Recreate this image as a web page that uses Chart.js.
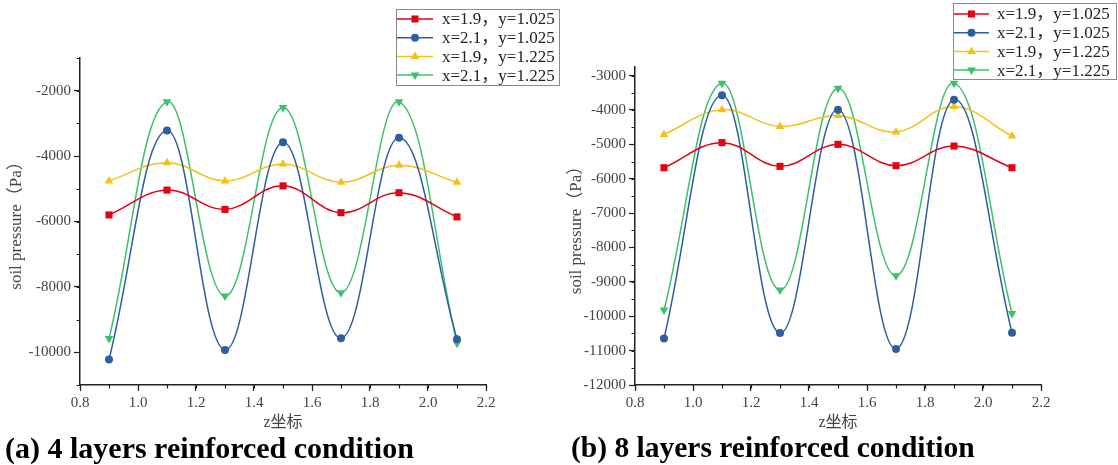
<!DOCTYPE html>
<html>
<head>
<meta charset="utf-8">
<script src="https://cdn.jsdelivr.net/npm/chart.js@4.4.0/dist/chart.umd.min.js"></script>
<style>
  body { margin: 0; background: #fff; width: 1118px; height: 465px; overflow: hidden; position: relative; }
  .wrap { position: absolute; top: 0; height: 440px; }
  .cap { position: absolute; top: 433px; font-family: 'Liberation Serif', serif; font-weight: bold; font-size: 30px; line-height: 1; color: #000; white-space: nowrap; }
</style>
</head>
<body>
<div class="wrap" style="left:0;width:560px"><canvas id="chartA" width="560" height="440"></canvas></div>
<div class="wrap" style="left:560px;width:558px"><canvas id="chartB" width="558" height="440"></canvas></div>
<div class="cap" style="left:5px">(a) 4 layers reinforced condition</div>
<div class="cap" style="left:571px;font-size:29.5px">(b) 8 layers reinforced condition</div>

<script>
// z坐标 (x axis)
const zCoord = [0.9, 1.1, 1.3, 1.5, 1.7, 1.9, 2.1];
const seriesNames = ['x=1.9，y=1.025', 'x=2.1，y=1.025', 'x=1.9，y=1.225', 'x=2.1，y=1.225'];
const seriesColors = ['#e60012', '#2d5e9e', '#f5c116', '#3cc06c'];
const seriesMarkers = ['rect', 'circle', 'triangle', 'triangle'];
const seriesRotation = [0, 0, 0, 180];

// (a) 4 layers
const a_x19_y1025 = [-5800, -5040, -5630, -4910, -5730, -5120, -5860];
const a_x21_y1025 = [-10220, -3220, -9930, -3580, -9570, -3440, -9600];
const a_x19_y1225 = [-4760, -4200, -4760, -4240, -4800, -4280, -4800];
const a_x21_y1225 = [-9580, -2340, -8280, -2510, -8180, -2340, -9720];

// (b) 8 layers
const b_x19_y1025 = [-5680, -4950, -5640, -5000, -5620, -5050, -5680];
const b_x21_y1025 = [-10650, -3570, -10490, -3990, -10950, -3700, -10480];
const b_x19_y1225 = [-4710, -3990, -4480, -4160, -4640, -3900, -4760];
const b_x21_y1225 = [-9820, -3220, -9240, -3370, -8820, -3220, -9920];

// labelled y ticks
const aTicksY = [-10000, -8000, -6000, -4000, -2000];
const bTicksY = [-12000, -11000, -10000, -9000, -8000, -7000, -6000, -5000, -4000, -3000];

const serif = 'Liberation Serif, Noto Sans CJK SC, serif';

function makeDatasets(list) {
    return list.map(function (vals, i) {
        return {
            label: seriesNames[i],
            data: vals.map(function (v, k) { return { x: zCoord[k], y: v }; }),
            borderColor: seriesColors[i],
            backgroundColor: seriesColors[i],
            borderWidth: 1.5,
            tension: 0.4,
            pointStyle: seriesMarkers[i],
            pointRotation: seriesRotation[i],
            pointRadius: i === 1 ? 4 : 5,
            pointBorderWidth: 0
        };
    });
}

// small ticks between the labelled ones
const minorTicks = {
    id: 'minorTicks',
    afterDraw(chart, args, o) {
        const ctx = chart.ctx, xs = chart.scales.x, ys = chart.scales.y;
        ctx.save();
        ctx.strokeStyle = '#222';
        ctx.lineWidth = 1.2;
        ctx.beginPath();
        for (let v = xs.min; v <= xs.max + 1e-9; v += o.xStep) {
            const px = Math.round(xs.getPixelForValue(v)) + 0.5;
            ctx.moveTo(px, xs.top); ctx.lineTo(px, xs.top + 3.5);
        }
        for (let v = o.yFrom; v <= ys.max + 1e-9; v += o.yStep) {
            const py = Math.round(ys.getPixelForValue(v)) + 0.5;
            ctx.moveTo(ys.right, py); ctx.lineTo(ys.right - 3.5, py);
        }
        ctx.stroke();
        ctx.restore();
    }
};

// boxed legend with line + marker, like the original figure
const boxLegend = {
    id: 'boxLegend',
    afterDraw(chart, args, o) {
        const ctx = chart.ctx;
        ctx.save();
        ctx.fillStyle = '#fff';
        ctx.fillRect(o.x, o.y, o.w, o.h);
        ctx.strokeStyle = '#8a8a8a';
        ctx.lineWidth = 1;
        ctx.strokeRect(o.x + 0.5, o.y + 0.5, o.w - 1, o.h - 1);
        chart.data.datasets.forEach(function (ds, i) {
            const cy = o.y + o.first + i * o.row;
            ctx.strokeStyle = ds.borderColor;
            ctx.lineWidth = 1.5;
            ctx.beginPath();
            ctx.moveTo(o.x + 1, cy);
            ctx.lineTo(o.x + 1 + o.line, cy);
            ctx.stroke();
            ctx.fillStyle = ds.borderColor;
            Chart.helpers.drawPoint(ctx, {
                pointStyle: ds.pointStyle,
                rotation: ds.pointRotation,
                radius: ds.pointRadius,
                borderWidth: 0
            }, o.x + 1 + o.line / 2, cy);
            ctx.fillStyle = '#222';
            ctx.font = '17px ' + serif;
            ctx.textBaseline = 'middle';
            ctx.fillText(ds.label, o.x + o.text, cy + 1);
        });
        ctx.restore();
    }
};

function makeChart(id, series, yMin, yMax, yTicks, yMinorStep, yAxisW, pad, legend) {
    const ctx = document.getElementById(id).getContext('2d');
    return new Chart(ctx, {
        type: 'line',
        data: { datasets: makeDatasets(series) },
        plugins: [minorTicks, boxLegend],
        options: {
            responsive: false,
            animation: false,
            events: [],
            layout: { padding: pad },
            plugins: {
                legend: { display: false },
                tooltip: { enabled: false },
                minorTicks: { xStep: 0.1, yFrom: yMin, yStep: yMinorStep },
                boxLegend: legend
            },
            scales: {
                x: {
                    type: 'linear',
                    min: 0.8,
                    max: 2.2,
                    afterFit: function (s) { s.height = 50; },
                    ticks: {
                        stepSize: 0.2,
                        color: '#444',
                        padding: 3,
                        font: { family: serif, size: 15 },
                        callback: function (v) { return v.toFixed(1); }
                    },
                    grid: { drawOnChartArea: false, tickLength: 6, tickColor: '#222', tickWidth: 1.2 },
                    border: { color: '#222', width: 1.5 },
                    title: { display: true, text: 'z坐标', color: '#444', font: { family: serif, size: 16 }, padding: { top: 0, bottom: 3 } }
                },
                y: {
                    min: yMin,
                    max: yMax,
                    afterFit: function (s) { s.width = yAxisW; },
                    afterBuildTicks: function (s) {
                        s.ticks = yTicks.map(function (v) { return { value: v }; });
                    },
                    ticks: {
                        color: '#444',
                        padding: 3,
                        autoSkip: false,
                        font: { family: serif, size: 15 },
                        callback: function (v) { return String(v); }
                    },
                    grid: { drawOnChartArea: false, tickLength: 6, tickColor: '#222', tickWidth: 1.2 },
                    border: { color: '#222', width: 1.5 },
                    title: { display: true, text: 'soil pressure（Pa）', color: '#444', font: { family: serif, size: 17 }, padding: { top: 6, bottom: 0 } }
                }
            }
        }
    });
}

document.addEventListener('DOMContentLoaded', function () {
    makeChart('chartA', [a_x19_y1025, a_x21_y1025, a_x19_y1225, a_x21_y1225],
        -11000, -1000, aTicksY, 1000, 80,
        { left: 0, right: 74, top: 58, bottom: 5 },
        { x: 396, y: 9, w: 164, h: 77, first: 10, row: 18.7, line: 36, text: 46 });

    makeChart('chartB', [b_x19_y1025, b_x21_y1025, b_x19_y1225, b_x21_y1225],
        -12000, -2750, bTicksY, 500, 75,
        { left: 0, right: 77, top: 67, bottom: 5 },
        { x: 393, y: 3, w: 164, h: 77, first: 11, row: 18.7, line: 35, text: 44 });
});
</script>
</body>
</html>
